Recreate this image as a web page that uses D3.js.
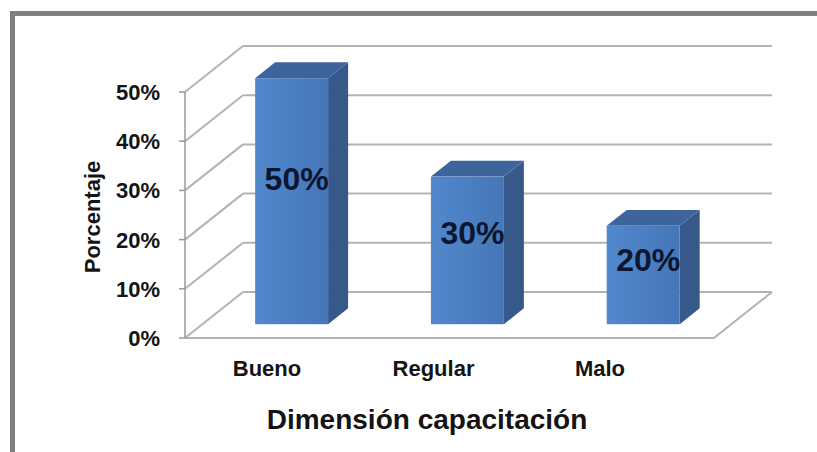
<!DOCTYPE html>
<html>
<head>
<meta charset="utf-8">
<script src="https://cdn.jsdelivr.net/npm/d3@7"></script>
<style>
  html, body { margin: 0; padding: 0; background: #fff; }
  svg { display: block; }
  text { font-family: "Liberation Sans", Arial, sans-serif; font-weight: bold; }
</style>
</head>
<body>
<svg id="chart" width="817" height="452"></svg>
<script>
// Data
const categories = ["Bueno", "Regular", "Malo"];
const values = [0.50, 0.30, 0.20];
const tickValues = [0, 0.10, 0.20, 0.30, 0.40, 0.50];
const valueLabels = ["50%", "30%", "20%"];
const xTitle = "Dimensión capacitación";
const yTitle = "Porcentaje";

const svg = d3.select("#chart");
const W = 817, H = 452;

// Outer frame
svg.append("rect").attr("x", 0).attr("y", 0).attr("width", W).attr("height", H).attr("fill", "#fff");
svg.append("rect")
  .attr("x", 12.5).attr("y", 13.5).attr("width", W + 20).attr("height", H + 20)
  .attr("fill", "none").attr("stroke", "#808080").attr("stroke-width", 5);

// 3-D box geometry: front plane plus a depth offset vector
const depthX = 58, depthY = -46;
const frontLeft = 185, frontRight = 714;
const y = d3.scaleLinear().domain([0, 0.5]).range([338, 92]);
const x = d3.scaleBand().domain(categories).range([frontLeft, frontRight + 1])
  .paddingInner(0.585).paddingOuter(0.3);
const labelX = d3.scalePoint().domain(categories).range([267, 600]);

const gridColor = "#b3b3b3";
const grid = svg.append("g").attr("fill", "none").attr("stroke", gridColor).attr("stroke-width", 2);

// Back wall gridlines and left wall diagonals
tickValues.forEach(v => {
  grid.append("line")
    .attr("x1", frontLeft + depthX).attr("y1", y(v) + depthY)
    .attr("x2", frontRight + depthX).attr("y2", y(v) + depthY);
  grid.append("line")
    .attr("x1", frontLeft).attr("y1", y(v))
    .attr("x2", frontLeft + depthX).attr("y2", y(v) + depthY);
});
// Floor front edge and right edge
grid.append("line").attr("x1", frontLeft).attr("y1", y(0)).attr("x2", frontRight).attr("y2", y(0));
grid.append("line").attr("x1", frontRight).attr("y1", y(0))
  .attr("x2", frontRight + depthX).attr("y2", y(0) + depthY);

// Vertical axis with tick marks
const axis = svg.append("g").attr("stroke", "#9a9a9a").attr("stroke-width", 1.5);
axis.append("line").attr("x1", frontLeft).attr("y1", y(0.5)).attr("x2", frontLeft).attr("y2", y(0));
tickValues.forEach(v => {
  axis.append("line").attr("x1", frontLeft - 6).attr("y1", y(v)).attr("x2", frontLeft).attr("y2", y(v));
});

svg.append("g").selectAll("text").data(tickValues).join("text")
  .attr("x", 160).attr("y", d => y(d)).attr("dy", "0.36em")
  .attr("text-anchor", "end").attr("font-size", 22).attr("fill", "#141414")
  .text(d3.format(".0%"));

// Bars as prisms
const defs = svg.append("defs");
const grad = defs.append("linearGradient").attr("id", "barFront")
  .attr("x1", "0").attr("x2", "1").attr("y1", "0").attr("y2", "0");
grad.append("stop").attr("offset", "0").attr("stop-color", "#5288cd");
grad.append("stop").attr("offset", "1").attr("stop-color", "#4576b8");

const f0 = 0.3, f1 = 0.645;
const bars = svg.append("g");
categories.forEach((c, i) => {
  const v = values[i];
  const xl = x(c) + f0 * depthX, xr = xl + x.bandwidth();
  const yt = y(v) + f0 * depthY, yb = y(0) + f0 * depthY;
  const dx = (f1 - f0) * depthX, dy = (f1 - f0) * depthY;
  const g = bars.append("g");
  g.append("polygon")
    .attr("points", [[xr, yt], [xr + dx, yt + dy], [xr + dx, yb + dy], [xr, yb]].join(" "))
    .attr("fill", "#36598a");
  g.append("polygon")
    .attr("points", [[xl, yt], [xr, yt], [xr + dx, yt + dy], [xl + dx, yt + dy]].join(" "))
    .attr("fill", "#3d659b");
  g.append("rect")
    .attr("x", xl).attr("y", yt).attr("width", xr - xl).attr("height", yb - yt)
    .attr("fill", "url(#barFront)");
  g.append("text")
    .attr("x", xl + (xr - xl) / 2 + 5).attr("y", y(v * 0.55) - 13)
    .attr("text-anchor", "middle").attr("font-size", 32).attr("fill", "#0b1630")
    .text(valueLabels[i]);
});

// Category labels
svg.append("g").selectAll("text").data(categories).join("text")
  .attr("x", d => labelX(d)).attr("y", 376)
  .attr("text-anchor", "middle").attr("font-size", 22).attr("fill", "#141414")
  .text(d => d);

// Axis titles
svg.append("text").attr("x", 427).attr("y", 429)
  .attr("text-anchor", "middle").attr("font-size", 28).attr("fill", "#141414")
  .text(xTitle);
svg.append("text").attr("transform", "translate(100,217) rotate(-90)")
  .attr("text-anchor", "middle").attr("font-size", 22).attr("fill", "#141414")
  .text(yTitle);
</script>
</body>
</html>
